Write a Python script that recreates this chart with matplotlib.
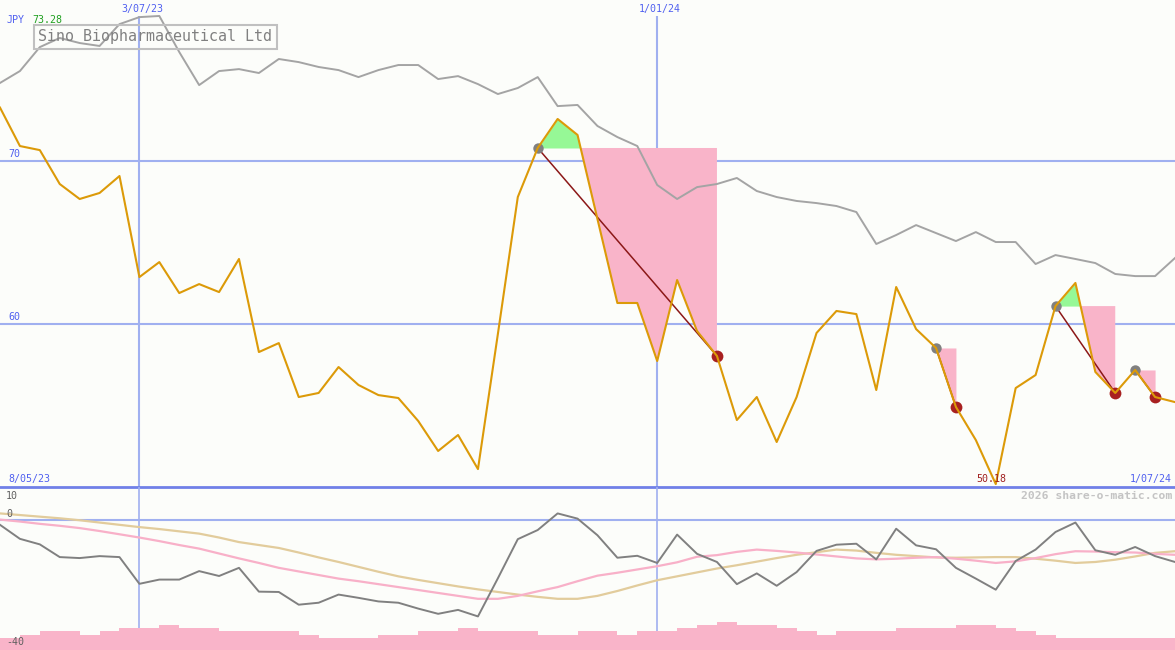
import numpy as np
import matplotlib
matplotlib.use("Agg")
import matplotlib.pyplot as plt

# weekly closes in JPY, week 0 = mid May 2023
price = [73.28, 70.92, 70.67, 68.59, 67.67, 68.04, 69.08, 62.88, 63.80, 61.90,
         62.45, 61.96, 63.99, 58.28, 58.83, 55.52, 55.77, 57.36, 56.26, 55.64,
         55.46, 54.05, 52.21, 53.19, 51.10, 59.39, 67.79, 70.80, 72.58, 71.60,
         66.44, 61.29, 61.29, 57.73, 62.70, 59.57, 58.04, 54.11, 55.52, 52.76,
         55.52, 59.45, 60.80, 60.61, 55.95, 62.27, 59.69, 58.53, 54.91, 52.88,
         50.18, 56.07, 56.87, 61.10, 62.52, 57.06, 55.77, 57.18, 55.52, 55.21]

# market index, rescaled onto the price axis
index_line = [74.79, 75.52, 76.99, 77.55, 77.24, 77.06, 78.40, 78.83, 78.90, 76.69,
              74.66, 75.52, 75.64, 75.40, 76.26, 76.07, 75.77, 75.58, 75.15, 75.58,
              75.89, 75.89, 75.03, 75.21, 74.72, 74.11, 74.48, 75.15, 73.37, 73.44,
              72.15, 71.47, 70.92, 68.53, 67.67, 68.40, 68.59, 68.96, 68.16, 67.79,
              67.55, 67.42, 67.24, 66.87, 64.91, 65.46, 66.07, 65.58, 65.09, 65.64,
              65.03, 65.03, 63.68, 64.23, 63.99, 63.74, 63.07, 62.94, 62.94, 64.05]

# lower panel: oscillator and its two averages
osc = [-1.6, -5.9, -7.6, -11.5, -11.8, -11.2, -11.5, -19.7, -18.4, -18.4,
       -15.8, -17.3, -14.8, -22.1, -22.2, -26.1, -25.5, -23.0, -24.0, -25.1,
       -25.5, -27.3, -28.9, -27.7, -29.7, -18.0, -6.0, -3.2, 1.9, 0.3,
       -4.8, -11.7, -11.1, -13.3, -4.6, -10.5, -13.0, -19.8, -16.5, -20.3,
       -16.1, -9.6, -7.7, -7.4, -12.2, -2.8, -7.9, -9.1, -14.8, -18.1,
       -21.5, -12.7, -9.2, -3.8, -0.9, -9.4, -10.8, -8.4, -11.2, -13.0]
osc_fast = [0.0, -0.6, -1.3, -1.9, -2.6, -3.5, -4.5, -5.5, -6.6, -7.8,
            -8.9, -10.4, -11.9, -13.3, -14.8, -15.9, -17.0, -18.1, -18.9, -19.8,
            -20.7, -21.6, -22.5, -23.4, -24.3, -24.3, -23.4, -22.0, -20.7, -18.9,
            -17.2, -16.3, -15.3, -14.3, -13.1, -11.4, -10.9, -9.9, -9.2, -9.6,
            -10.1, -10.7, -11.3, -11.9, -12.2, -12.0, -11.7, -11.5, -12.0, -12.6,
            -13.3, -12.8, -11.8, -10.6, -9.7, -9.8, -10.0, -10.1, -10.5, -10.8]
osc_slow = [1.9, 1.4, 0.9, 0.4, -0.2, -0.9, -1.6, -2.3, -2.9, -3.6,
            -4.3, -5.5, -6.9, -7.8, -8.7, -10.1, -11.6, -13.0, -14.5, -16.0,
            -17.4, -18.5, -19.5, -20.5, -21.4, -22.2, -23.0, -23.7, -24.3, -24.3,
            -23.4, -21.9, -20.2, -18.6, -17.4, -16.2, -15.0, -14.0, -12.9, -11.8,
            -10.8, -10.0, -9.2, -9.5, -10.2, -10.8, -11.2, -11.6, -11.7, -11.6,
            -11.5, -11.5, -12.0, -12.6, -13.3, -13.0, -12.3, -11.3, -10.2, -9.7]
# volume blocks, height above the -40 floor
volume = [3.7, 4.7, 5.8, 5.8, 4.7, 5.8, 6.7, 6.7, 7.8, 6.7,
          6.7, 5.8, 5.8, 5.8, 5.8, 4.7, 3.7, 3.7, 3.7, 4.7,
          4.7, 5.8, 5.8, 6.7, 5.8, 5.8, 5.8, 4.7, 4.7, 5.8,
          5.8, 4.7, 5.8, 5.8, 6.7, 7.8, 8.6, 7.8, 7.8, 6.7,
          5.8, 4.7, 5.8, 5.8, 5.8, 6.7, 6.7, 6.7, 7.8, 7.8,
          6.7, 5.8, 4.7, 3.7, 3.7, 3.7, 3.7, 3.7, 3.7, 3.7]

trade_entries = [27, 47, 53, 57]
trade_exits = [36, 48, 56, 58]

grid_weeks = [7, 33]
grid_labels = ["3/07/23", "1/01/24"]
price_grid = [70, 60]
start_label, end_label = "8/05/23", "1/07/24"
company = "Sino Biopharmaceutical Ltd"

W, H = 1175, 650
BG = "#fcfdfa"
GRID = "#a0b0f0"
BLUE_TXT = "#5060f0"
MONO = "DejaVu Sans Mono"


def px(x, y):
    return x / W, 1 - y / H


weeks = np.arange(len(price))
p = np.array(price)

fig = plt.figure(figsize=(W / 100, H / 100), dpi=100, facecolor=BG)
ax = fig.add_axes([0, 163 / H, 1, 487 / H], facecolor=BG)
ax2 = fig.add_axes([0, 0, 1, 163 / H], facecolor=BG)
for a in (ax, ax2):
    a.set_xlim(0, 59)
    a.set_axis_off()
ax.set_ylim(50, 79.88)
ax2.set_ylim(-40, 10)

# main panel
for lvl in price_grid:
    ax.axhline(lvl, color=GRID, lw=1.5, zorder=1)
for w in grid_weeks:
    ax.vlines(w, 50, 78.9, color=GRID, lw=1.5, zorder=1)
ax.axhline(50, color="#7080e8", lw=2, zorder=1, clip_on=False)

for e, x_ in zip(trade_entries, trade_exits):
    xs = weeks[e:x_ + 1]
    ys = p[e:x_ + 1]
    lvl = p[e]
    ax.fill_between(xs, lvl, ys, where=ys >= lvl, interpolate=True,
                    color="#96f896", lw=0, zorder=2)
    ax.fill_between(xs, lvl, ys, where=ys <= lvl, interpolate=True,
                    color="#f9b4c9", lw=0, zorder=2)
    ax.plot([e, x_], [lvl, p[x_]], color="#8c1818", lw=1.1, zorder=4)
    ax.plot(e, lvl, "o", ms=7.5, color="#808080", mew=0, zorder=4)
    ax.plot(x_, p[x_], "o", ms=8.5, color="#a82020", mew=0, zorder=4)

ax.plot(weeks, index_line, color="#a4a4a4", lw=1.4, zorder=3)
ax.plot(weeks, price, color="#dc9a08", lw=1.5, zorder=5)

# lower panel
for w in grid_weeks:
    ax2.axvline(w, color=GRID, lw=1.2, zorder=1)
ax2.axhline(0, color=GRID, lw=1.5, zorder=1)
ax2.bar(weeks, volume, bottom=-40, width=1, align="edge", color="#f9b4c9",
        lw=0, zorder=2)
ax2.plot(weeks, osc_slow, color="#e2cc9c", lw=1.6, zorder=3)
ax2.plot(weeks, osc_fast, color="#f8b0c8", lw=1.6, zorder=3)
ax2.plot(weeks, osc, color="#808080", lw=1.4, zorder=4)

# labels
fig.text(*px(7, 20), "JPY", color=BLUE_TXT, family=MONO, fontsize=7.2, va="center")
fig.text(*px(32, 20), f"{price[0]:.2f}", color="#20a020", family=MONO, fontsize=7.2, va="center")
fig.text(*px(38, 37), company, color="#808080", family=MONO, fontsize=10.8, va="center",
         bbox=dict(boxstyle="square,pad=0.3", fc="none", ec="#c0c0c0", lw=1.5))
for w, lab in zip(grid_weeks, grid_labels):
    fig.text(w / 59 + 3 / W, 1 - 9 / H, lab, color=BLUE_TXT, family=MONO,
             fontsize=7.2, ha="center", va="center")
for lvl in price_grid:
    ax.text(0.007, lvl + 0.15, str(lvl), transform=ax.get_yaxis_transform(),
            color=BLUE_TXT, family=MONO, fontsize=7.2, va="bottom")
fig.text(*px(8, 479), start_label, color=BLUE_TXT, family=MONO, fontsize=7.2, va="center")
fig.text(*px(1172, 479), end_label, color=BLUE_TXT, family=MONO, fontsize=7.2,
         va="center", ha="right")
low_i = int(np.argmin(p))
fig.text(low_i / 59 - 4 / W, 1 - 479 / H, f"{p[low_i]:.2f}", color="#a02020",
         family=MONO, fontsize=7.2, va="center", ha="center")
fig.text(*px(1172, 496), "2026 share-o-matic.com", color="#c4c4c4", family=MONO,
         fontsize=8.2, fontweight="bold", va="center", ha="right")
for lab, y in [("10", 496), ("0", 514), ("-40", 642)]:
    fig.text(*px(6, y), lab, color="#606060", family=MONO, fontsize=7.2, va="center")

fig.savefig("out.png", dpi=100, facecolor=BG)
